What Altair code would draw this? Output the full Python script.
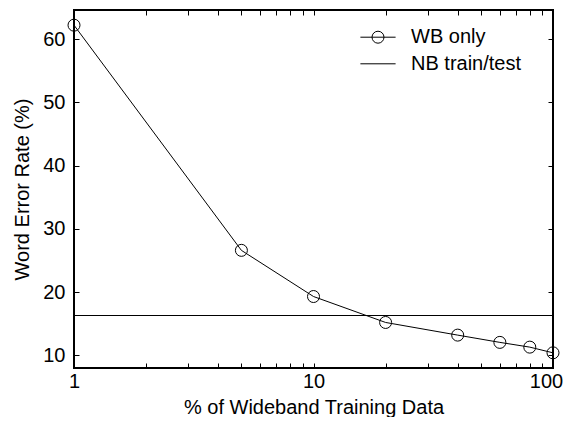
import altair as alt
import pandas as pd

# ---- data ----
pct = [1, 5, 10, 20, 40, 60, 80, 100]
wer = [62.2, 26.6, 19.3, 15.2, 13.2, 12.05, 11.3, 10.4]
nb_level = [16.3]
series = ["WB only", "NB train/test"]
x_ticks = [1, 2, 3, 4, 5, 6, 7, 8, 9, 10, 20, 30, 40, 50, 60, 70, 80, 90, 100]
x_labels = [1, 10, 100]
y_ticks = [10, 20, 30, 40, 50, 60]

FONT = "Liberation Sans"
FS = 20

wb = pd.DataFrame({"pct": pct, "wer": wer})
nb = pd.DataFrame({"wer": nb_level})
leg = pd.DataFrame({"series": series})

xscale = alt.Scale(type="log", domain=[1, 100], nice=False)
yscale = alt.Scale(domain=[8, 64.6], nice=False, zero=False)

label_expr = "indexof(" + str(x_labels) + ", datum.value) >= 0 ? format(datum.value, 'd') : ''"

line = alt.Chart(wb).mark_line(color="black", strokeWidth=1).encode(
    x=alt.X("pct:Q", scale=xscale, axis=alt.Axis(
        orient="bottom", values=x_ticks, labelExpr=label_expr, title="% of Wideband Training Data",
        offset=-5, tickSize=5, domain=False, grid=False, labelPadding=19,
        labelBaseline="alphabetic", labelFlush=False, labelOverlap=False,
        labelOffset={"condition": {"test": "datum.value == 100", "value": -7}, "value": 0},
        titleY=50, titleBaseline="alphabetic")),
    y=alt.Y("wer:Q", scale=yscale, axis=alt.Axis(
        orient="left", values=y_ticks, offset=-5, tickSize=5, domain=False, grid=False,
        labelPadding=9, title="Word Error Rate (%)", titleX=-57, titleY=179,
        titleAngle=270, titleBaseline="middle", titleAlign="center")),
)

pts = alt.Chart(wb).mark_point(color="black", filled=False, size=144, strokeWidth=1, opacity=1).encode(
    x=alt.X("pct:Q", scale=xscale, axis=alt.Axis(
        orient="top", values=x_ticks, offset=-5, tickSize=5, domain=False, grid=False,
        labels=False, title=None)),
    y=alt.Y("wer:Q", scale=yscale, axis=alt.Axis(
        orient="right", values=y_ticks, offset=-5, tickSize=5, domain=False, grid=False,
        labels=False, title=None)),
)

rule = alt.Chart(nb).mark_rule(color="black", strokeWidth=1).encode(
    y=alt.Y("wer:Q", scale=yscale, axis=None)
)

path_wb = ("M-1.6,0H1.6M0.545,0A0.545,0.545,0,1,1,-0.545,0"
           "A0.545,0.545,0,1,1,0.545,0Z")
path_nb = "M-1.6,0H1.6"

dummy = alt.Chart(leg).mark_point(color="black", filled=False, opacity=0).encode(
    shape=alt.Shape("series:N", scale=alt.Scale(domain=series, range=[path_wb, path_nb]),
                    legend=alt.Legend(orient="none", legendX=292.5, legendY=15.7, title=None,
                                      symbolSize=484, symbolStrokeWidth=1,
                                      symbolStrokeColor="black", symbolFillColor="transparent",
                                      labelFont=FONT, labelFontSize=FS, labelOffset=21.5,
                                      rowPadding=4.6, padding=0, labelLimit=300,
                                      symbolOpacity=1))
)

chart = alt.layer(line, pts, rule, dummy).resolve_axis(
    x="independent", y="independent"
).properties(
    width=479, height=358,
    padding={"left": 66, "top": 2, "right": 10, "bottom": 49},
    autosize=alt.AutoSizeParams(type="none"),
    background="white",
).configure_view(
    stroke="black", strokeWidth=2
).configure_axis(
    labelFont=FONT, titleFont=FONT, labelFontSize=FS, titleFontSize=FS,
    titleFontWeight="normal", labelColor="black", titleColor="black", tickColor="black",
    tickWidth=1
)

chart.save("out.html", embed_options={"renderer": "svg", "actions": False})
